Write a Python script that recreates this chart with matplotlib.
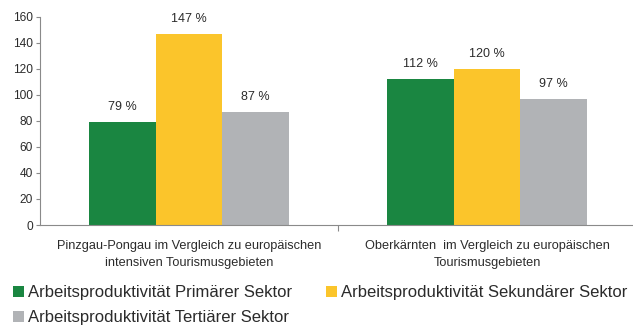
import matplotlib
matplotlib.use("Agg")
import matplotlib.pyplot as plt
import numpy as np
from matplotlib.patches import Patch

plt.rcParams['font.family'] = ['Liberation Sans', 'DejaVu Sans']

categories = [
    "Pinzgau-Pongau im Vergleich zu europäischen\nintensiven Tourismusgebieten",
    "Oberkärnten  im Vergleich zu europäischen\nTourismusgebieten",
]
series_names = [
    "Arbeitsproduktivität Primärer Sektor",
    "Arbeitsproduktivität Sekundärer Sektor",
    "Arbeitsproduktivität Tertiärer Sektor",
]
primaer = [79, 112]
sekundaer = [147, 120]
tertiaer = [87, 97]
yticks = [0, 20, 40, 60, 80, 100, 120, 140, 160]

colors = ["#1a8641", "#fbc52b", "#b1b3b6"]
text_color = "#2b2b2b"
axis_color = "#8a8a8a"

fig = plt.figure(figsize=(6.33, 3.28), dpi=100)
ax = fig.add_axes([40 / 633, 103 / 328, 596 / 633, 208.3 / 328])

x = np.arange(len(categories))
bw = 0.224
for i, (vals, col) in enumerate(zip([primaer, sekundaer, tertiaer], colors)):
    pos = x + (i - 1) * bw
    ax.bar(pos, vals, width=bw, color=col, edgecolor="none")
    for p, v in zip(pos, vals):
        ax.text(p, v + 11.5, f"{v} %", ha="center", va="center",
                fontsize=9, color=text_color)

ax.set_xlim(-0.5, 1.5)
ax.set_ylim(0, 160)
ax.set_yticks(yticks)
ax.set_yticklabels([str(t) for t in yticks], fontsize=8.6, color=text_color)
ax.set_xticks([0.5])
ax.set_xticklabels([""])
ax.tick_params(axis="x", length=4, color=axis_color, width=0.8)
ax.tick_params(axis="y", length=3, color=axis_color, width=0.8, pad=2)

for i, c in enumerate(categories):
    ax.text(i, -11.5, c, ha="center", va="top", fontsize=9.2, color=text_color,
            linespacing=1.55)

for s in ["top", "right"]:
    ax.spines[s].set_visible(False)
for s in ["left", "bottom"]:
    ax.spines[s].set_color(axis_color)
    ax.spines[s].set_linewidth(0.8)

# two columns, filled row by row: Primär, Sekundär / Tertiär
order = [0, 2, 1]
handles = [Patch(facecolor=colors[k], edgecolor="none") for k in order]
labels = [series_names[k] for k in order]
fig.legend(handles, labels, loc="upper left",
           bbox_to_anchor=(13 / 633, 1 - 285 / 328), ncol=2, frameon=False,
           fontsize=12, handlelength=0.65, handleheight=0.65,
           handletextpad=0.25, columnspacing=2.05, labelspacing=0.6,
           borderaxespad=0, borderpad=0, labelcolor=text_color)

fig.savefig("out.png", dpi=100, facecolor="white")
